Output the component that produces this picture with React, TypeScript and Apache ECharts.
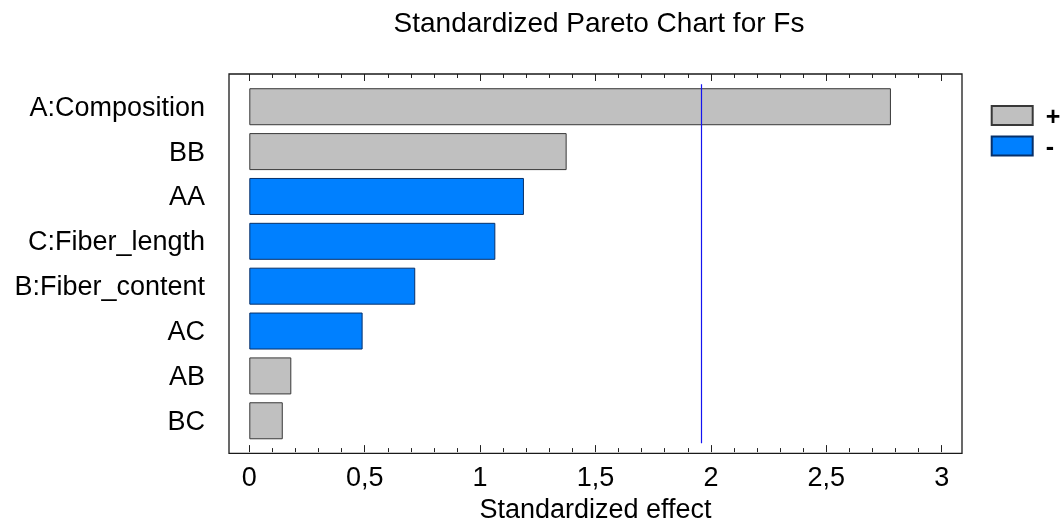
import React, { useEffect, useRef } from "react";
import * as echarts from "echarts";

const titleText = "Standardized Pareto Chart for Fs";
const axisTitle = "Standardized effect";
const categories = ["A:Composition", "BB", "AA", "C:Fiber_length", "B:Fiber_content", "AC", "AB", "BC"];
const effects = [2.78, 1.375, 1.19, 1.066, 0.719, 0.491, 0.182, 0.145];
const signs = ["+", "+", "-", "-", "-", "-", "+", "+"];
const criticalValue = 1.96;
const xMin = 0;
const xMax = 3;
const xInterval = 0.5;

const FONT = "'Liberation Sans', Arial, sans-serif";
const FS = 27;
const LINE_BLUE = "#1414f0";

export default function App() {
  const ref = useRef<HTMLDivElement>(null);
  useEffect(() => {
    if (!ref.current) return;
    const chart = echarts.init(ref.current, undefined, { renderer: "svg" });
    const posData = effects.map((v, i) => (signs[i] === "+" ? v : null));
    const negData = effects.map((v, i) => (signs[i] === "-" ? v : null));
    const tickStyle = { color: "#222", width: 1 };
    const gLeft = 249.3;
    const gWidth = 692.4;
    chart.setOption({
      animation: false,
      textStyle: { fontFamily: FONT },
      grid: [
        { left: gLeft, top: 74, width: gWidth, height: 379.3, show: false },
        { left: gLeft, top: 84.3, width: gWidth, height: 358.9, show: false },
      ],
      xAxis: [
        {
          gridIndex: 0,
          type: "value",
          min: xMin,
          max: xMax,
          interval: xInterval,
          position: "bottom",
          axisLine: { show: false },
          axisTick: { show: true, inside: true, length: 7, lineStyle: tickStyle },
          minorTick: { show: true, splitNumber: 5, length: 4, lineStyle: tickStyle },
          splitLine: { show: false },
          minorSplitLine: { show: false },
          axisLabel: {
            fontSize: FS,
            color: "#000",
            fontFamily: FONT,
            margin: 11,
            formatter: (v: number) => String(v).replace(".", ","),
          },
          name: axisTitle,
          nameLocation: "middle",
          nameGap: 41,
          nameTextStyle: { fontSize: FS, color: "#000", fontFamily: FONT },
        },
        {
          gridIndex: 0,
          type: "value",
          min: xMin,
          max: xMax,
          interval: xInterval,
          position: "top",
          axisLine: { show: false },
          axisTick: { show: true, inside: true, length: 7, lineStyle: tickStyle },
          minorTick: { show: true, splitNumber: 5, length: 4, lineStyle: tickStyle },
          splitLine: { show: false },
          minorSplitLine: { show: false },
          axisLabel: { show: false },
        },
        { gridIndex: 1, type: "value", min: xMin, max: xMax, show: false },
      ],
      yAxis: [
        { gridIndex: 0, type: "value", show: false },
        {
          gridIndex: 1,
          type: "category",
          data: categories,
          inverse: true,
          axisLine: { show: false },
          axisTick: { show: false },
          splitLine: { show: false },
          axisLabel: { fontSize: FS, color: "#000", fontFamily: FONT, margin: 44.3 },
        },
      ],
      legend: {
        data: ["+", "-"],
        orient: "vertical",
        left: 990.7,
        top: 103,
        padding: 0,
        itemWidth: 41,
        itemHeight: 19,
        itemGap: 5.6,
        icon: "rect",
        selectedMode: false,
        textStyle: {
          fontSize: 25,
          fontWeight: "bold",
          color: "#000",
          fontFamily: FONT,
          padding: [0, 0, 0, 8],
        },
      },
      graphic: [
        {
          type: "rect",
          shape: { x: 229, y: 74, width: 733, height: 379.3 },
          style: { fill: "none", stroke: "#1a1a1a", lineWidth: 1.3 },
          z: 100,
        },
        {
          type: "text",
          x: 599,
          y: 22,
          style: {
            text: titleText,
            fontSize: 28,
            fill: "#000",
            fontFamily: FONT,
            align: "center",
            verticalAlign: "middle",
          },
        },
      ],
      series: [
        {
          type: "bar",
          name: "+",
          xAxisIndex: 2,
          yAxisIndex: 1,
          data: posData,
          barWidth: 37,
          barGap: "-100%",
          itemStyle: { color: "#C0C0C0", borderColor: "#383838", borderWidth: 1 },
          markLine: {
            silent: true,
            symbol: ["none", "none"],
            label: { show: false },
            lineStyle: { color: LINE_BLUE, width: 1.2, type: "solid", opacity: 1 },
            data: [{ xAxis: criticalValue, lineStyle: { color: LINE_BLUE, width: 1.2, type: "solid" } }],
          },
        },
        {
          type: "bar",
          name: "-",
          xAxisIndex: 2,
          yAxisIndex: 1,
          data: negData,
          barWidth: 37,
          barGap: "-100%",
          itemStyle: { color: "#0080FF", borderColor: "#06306a", borderWidth: 1 },
        },
      ],
    });
    return () => chart.dispose();
  }, []);
  return <div ref={ref} style={{ position: "fixed", left: 0, top: 0, width: 1064, height: 527 }} />;
}
